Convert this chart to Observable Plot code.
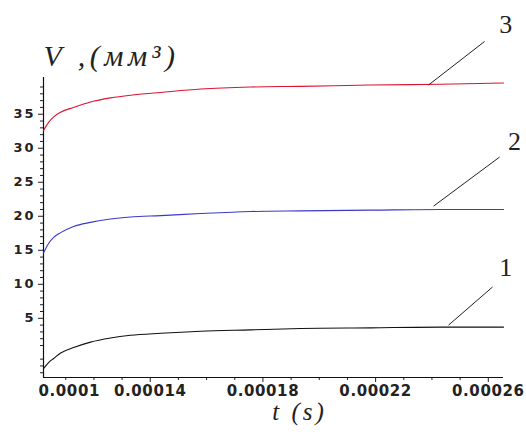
<!DOCTYPE html>
<html>
<head>
<meta charset="utf-8">
<script src="https://cdn.jsdelivr.net/npm/d3@7"></script>
<script src="https://cdn.jsdelivr.net/npm/@observablehq/plot@0.6"></script>
<style>
  html, body { margin: 0; padding: 0; background: #fff; }
  #chart svg [aria-label="y-axis tick label"] text { letter-spacing: 2px; }
  #chart svg [aria-label="x-axis tick label"] text { letter-spacing: 0.6px; }
</style>
</head>
<body>
<div id="chart"></div>
<script>
// time (s)
const t = [0.0001021, 0.0001039, 0.0001057, 0.0001082, 0.0001128, 0.0001188, 0.0001259, 0.0001330,
           0.0001437, 0.0001579, 0.0001756, 0.0001934, 0.0002182, 0.0002431, 0.0002654];
// V (mm^3) for the three curves
const curve1 = [-2.4, -1.5, -0.9, -0.1, 0.7, 1.5, 2.1, 2.5, 2.8, 3.1, 3.3, 3.5, 3.6, 3.7, 3.7];
const curve2 = [14.6, 16.0, 16.9, 17.6, 18.5, 19.1, 19.6, 19.9, 20.1, 20.4, 20.7, 20.8, 20.9, 21.0, 21.0];
const curve3 = [32.6, 33.8, 34.6, 35.3, 36.0, 36.8, 37.4, 37.8, 38.2, 38.7, 39.0, 39.1, 39.3, 39.4, 39.6];
const seriesNames = ["1", "2", "3"];
const seriesColors = ["#111111", "#3a3ac8", "#dc1430"];

// axes
const xDomain = [0.0001021, 0.0002654];
const yDomain = [-3.7, 40.4];
const xTicks = [0.00014, 0.00018, 0.00022, 0.00026];
const xFirstLabel = "0.0001";
const xMinorTicks = [0.00011, 0.00012, 0.00013, 0.00015, 0.00016, 0.00017, 0.00019, 0.0002, 0.00021, 0.00023, 0.00024, 0.00025];
const yTicks = [5, 10, 15, 20, 25, 30, 35];
const yMinorTicks = d3.range(-3, 41).filter(v => v % 5 !== 0);
const yTitle = "V ,(мм³)";
const xTitle = "t (s)";

// leader lines to curve numbers
const leaderX1 = [0.0002459, 0.0002406, 0.0002388];
const leaderY1 = [4.0, 21.5, 39.3];
const leaderX2 = [0.0002615, 0.0002640, 0.0002587];
const leaderY2 = [9.6, 28.7, 45.7];
const labelX = [0.0002662, 0.0002693, 0.0002662];
const labelY = [12.4, 31.0, 48.2];

const rows = [];
[curve1, curve2, curve3].forEach((c, i) => c.forEach((v, j) => rows.push({t: t[j], v, s: seriesNames[i]})));
const leaders = seriesNames.map((s, i) => ({s, x1: leaderX1[i], y1: leaderY1[i], x2: leaderX2[i], y2: leaderY2[i], lx: labelX[i], ly: labelY[i]}));

const chart = Plot.plot({
  width: 526,
  height: 434,
  marginLeft: 43,
  marginRight: 23,
  marginTop: 77,
  marginBottom: 57,
  style: {fontFamily: "DejaVu Sans", background: "#fff", color: "#111"},
  x: {domain: xDomain},
  y: {domain: yDomain},
  color: {domain: seriesNames, range: seriesColors},
  marks: [
    Plot.axisY(yMinorTicks, {tickSize: 3, tickFormat: () => "", stroke: "#222"}),
    Plot.axisY(yTicks, {tickSize: 5, tickPadding: 3, fontSize: 13, fontWeight: "bold", stroke: "#222", fill: "#222"}),
    Plot.axisX(xMinorTicks, {tickSize: 3, tickFormat: () => "", stroke: "#222"}),
    Plot.axisX(xTicks, {tickSize: 5, tickPadding: 3, fontSize: 15, fontWeight: "bold", tickFormat: d => String(d), stroke: "#222", fill: "#222"}),
    Plot.text([xFirstLabel], {x: [xDomain[0]], frameAnchor: "bottom", lineAnchor: "top", dy: 8, dx: -5, textAnchor: "start",
      fontSize: 15, fontWeight: "bold", fill: "#222"}),
    Plot.ruleX([xDomain[0]], {stroke: "#111", strokeWidth: 1.2}),
    Plot.ruleY([yDomain[0]], {stroke: "#111", strokeWidth: 1.2}),
    Plot.line(rows, {x: "t", y: "v", z: "s", stroke: "s", strokeWidth: 1.1, curve: "monotone-x"}),
    Plot.link(leaders, {x1: "x1", y1: "y1", x2: "x2", y2: "y2", stroke: "#222", strokeWidth: 1}),
    Plot.text(leaders, {x: "lx", y: "ly", text: "s", fontFamily: "Liberation Serif", fontSize: 26, fill: "#222"}),
    Plot.text([yTitle], {frameAnchor: "top-left", lineAnchor: "bottom", dy: -12, textAnchor: "start",
      fontFamily: "Liberation Serif", fontStyle: "italic", fontSize: 30, fill: "#222"}),
    Plot.text([xTitle], {frameAnchor: "bottom", lineAnchor: "top", dy: 25, dx: 26,
      fontFamily: "Liberation Serif", fontStyle: "italic", fontSize: 25, fill: "#222"})
  ]
});
document.getElementById("chart").appendChild(chart);

// letter spacing to mimic the wide glyphs of the original
const spacing = new Map([[yTitle, "4.5px"], [xTitle, "3px"], [xFirstLabel, "0.6px"]]);
d3.select(chart).selectAll("text").each(function() {
  const s = spacing.get(this.textContent);
  if (s) this.style.letterSpacing = s;
});
</script>
</body>
</html>
